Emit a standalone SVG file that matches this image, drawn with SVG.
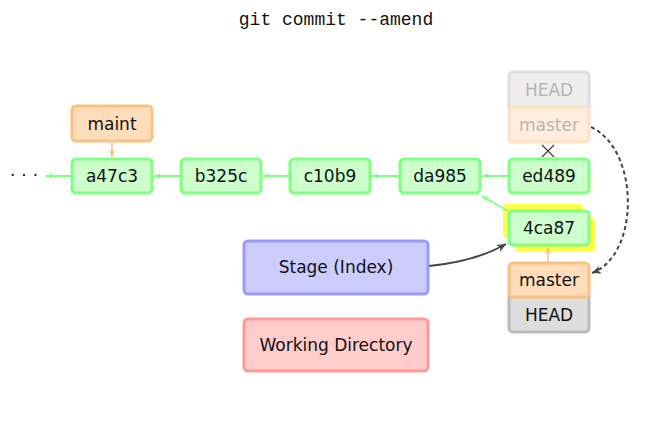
<svg xmlns="http://www.w3.org/2000/svg" width="661" height="424" viewBox="0 0 661 424">
<style>
.t{font-family:"DejaVu Sans","Liberation Sans",sans-serif;font-size:17px;text-anchor:middle;dominant-baseline:central;fill:#111}
.commit{fill:#ccffcc;stroke:#80ff80;stroke-width:3}
.branch{fill:#ffddbb;stroke:#ffbf80;stroke-width:3}
.head{fill:#dddddd;stroke:#bbbbbb;stroke-width:3}
.fhead{fill:#eeeeee;stroke:#dedede;stroke-width:3}
.fbranch{fill:#ffeedd;stroke:#ffe0c4;stroke-width:3}
.faded{fill:#b5b5b5}
.g{stroke:#80ff80;stroke-width:2;fill:none}
</style>
<defs>
<marker id="ag" markerWidth="8" markerHeight="8" refX="7" refY="4" orient="auto" markerUnits="userSpaceOnUse"><path d="M0,1 L7,4 L0,7 L2,4 Z" fill="#80ff80"/></marker>
<marker id="ao" markerWidth="8" markerHeight="8" refX="7" refY="4" orient="auto" markerUnits="userSpaceOnUse"><path d="M0,1 L7,4 L0,7 L2,4 Z" fill="#ffbf80"/></marker>
<marker id="ak" markerWidth="10" markerHeight="10" refX="9" refY="5" orient="auto" markerUnits="userSpaceOnUse"><path d="M0,1 L9,5 L0,9 L2.5,5 Z" fill="#444"/></marker>
</defs>
<text x="336" y="20" style="font-family:'Liberation Mono',monospace;font-size:18px;text-anchor:middle;dominant-baseline:central;fill:#111">git commit --amend</text>
<text x="27" y="175" class="t" style="letter-spacing:6px">···</text>
<g id="highlight">
<rect x="503" y="204" width="80" height="34" rx="4" fill="#ffff44"/>
<rect x="516" y="218" width="79" height="34" rx="4" fill="#ffff44"/>
</g>
<g id="connectors">
<path class="g" d="M72,176 L46,176" marker-end="url(#ag)"/>
<path class="g" d="M181,176 L154,176" marker-end="url(#ag)"/>
<path class="g" d="M290,176 L263,176" marker-end="url(#ag)"/>
<path class="g" d="M400,176 L372,176" marker-end="url(#ag)"/>
<path class="g" d="M509,176 L482,176" marker-end="url(#ag)"/>
<path class="g" d="M508,211 L482,196" marker-end="url(#ag)"/>
<path d="M112,141 L112,157" stroke="#ffbf80" stroke-width="1.5" fill="none" marker-end="url(#ao)"/>
<path d="M548,262 L548,247" stroke="#ffbf80" stroke-width="1.5" fill="none" marker-end="url(#ao)"/>
<path d="M548,143 L548,159" stroke="#ffe0c4" stroke-width="1.5" fill="none"/>
<path d="M542,145 L554,157 M554,145 L542,157" stroke="#444" stroke-width="1.3" fill="none"/>
<path d="M429,266 C460,263 485,256 506,244" stroke="#444" stroke-width="2" fill="none" marker-end="url(#ak)"/>
<path d="M591,127 C640,150 640,255 592,273" stroke="#444" stroke-width="2" stroke-dasharray="4,3" fill="none" marker-end="url(#ak)"/>
</g>
<g id="maint"><rect x="72" y="106" width="80" height="35" rx="4" class="branch"/><text x="112" y="124" class="t">maint</text></g>
<g id="a47c3"><rect x="72" y="159" width="80" height="34" rx="4" class="commit"/><text x="112" y="176" class="t">a47c3</text></g>
<g id="b325c"><rect x="181" y="159" width="80" height="34" rx="4" class="commit"/><text x="221" y="176" class="t">b325c</text></g>
<g id="c10b9"><rect x="290" y="159" width="80" height="34" rx="4" class="commit"/><text x="330" y="176" class="t">c10b9</text></g>
<g id="da985"><rect x="400" y="159" width="80" height="34" rx="4" class="commit"/><text x="440" y="176" class="t">da985</text></g>
<g id="ed489"><rect x="509" y="159" width="80" height="34" rx="4" class="commit"/><text x="549" y="176" class="t">ed489</text></g>
<g id="head-old"><rect x="509" y="72" width="80" height="40" rx="4" class="fhead"/><text x="549" y="90" class="t faded">HEAD</text></g>
<g id="master-old"><rect x="509" y="107" width="80" height="35" rx="4" class="fbranch"/><text x="549" y="125" class="t faded">master</text></g>
<g id="4ca87"><rect x="509" y="211" width="80" height="34" rx="4" class="commit"/><text x="549" y="228" class="t">4ca87</text></g>
<g id="head"><rect x="509" y="292" width="80" height="40" rx="4" class="head"/><text x="549" y="315" class="t">HEAD</text></g>
<g id="master"><rect x="509" y="263" width="80" height="34" rx="4" class="branch"/><text x="549" y="280" class="t">master</text></g>
<g id="stage"><rect x="244" y="241" width="184" height="53" rx="4" fill="#ccccff" stroke="#9999ff" stroke-width="3"/><text x="336" y="267" class="t">Stage (Index)</text></g>
<g id="workdir"><rect x="244" y="319" width="184" height="52" rx="4" fill="#ffcccc" stroke="#ff9999" stroke-width="3"/><text x="336" y="345" class="t">Working Directory</text></g>
</svg>
